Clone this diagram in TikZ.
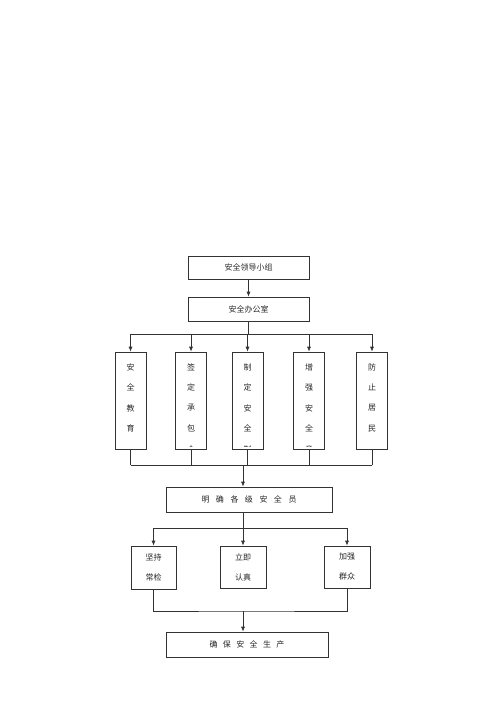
\documentclass[tikz,border=0pt]{standalone}
\usepackage{fontspec}
\newfontfamily\cjk{Noto Sans CJK SC}
\usetikzlibrary{arrows.meta}

\tikzset{
  box/.style={draw=black!80, line width=0.6pt, inner sep=0pt,
    font=\cjk\fontsize{8}{20}\selectfont, text=black!85, align=center},
  word/.style={inner sep=0pt, font=\cjk\fontsize{8}{10}\selectfont, text=black!85},
  link/.style={draw=black!80, line width=0.7pt},
  arr/.style={link, -{Latex[length=5pt,width=4pt]}},
}
\newcommand\wide{\hspace{6.5pt}}
\newcommand\wid{\hspace{5.4pt}}

\begin{document}
\begin{tikzpicture}[x=1pt,y=-1pt]
\useasboundingbox (0,0) rectangle (500,707);

% top of the chart
\node[box, minimum width=121pt, minimum height=23pt] (lead) at (248.5,267.5) {安全领导小组};
\node[box, minimum width=121pt, minimum height=24pt] (office) at (248.5,309) {安全办公室};
\draw[arr] (lead) -- (office);

% five tall boxes
\foreach \n/\x in {edu/130.5, contract/191, rules/247.5, aware/309, resid/372}
  \node[box, minimum width=31pt, minimum height=97pt] (\n) at (\x,400.5) {};
\begin{scope}
  \clip (100,340) rectangle (400,446.3);
  \foreach \x/\t in {130.5/{安,全,教,育}, 191/{签,定,承,包,合},
      247.5/{制,定,安,全,制}, 309/{增,强,安,全,意}, 372/{防,止,居,民}}
    \foreach \c [count=\i] in \t
      \node[word] at (\x,{367+20.5*(\i-1)}) {\c};
\end{scope}

\draw[link] (office.south) -- ++(0,13) coordinate (split);
\draw[link] (edu.north |- split) -- (resid.north |- split);
\foreach \n in {edu,contract,rules,aware,resid}
  \draw[arr] (\n.north |- split) -- (\n.north);

\coordinate (join) at (243,465);
\foreach \n in {edu,contract,rules,aware,resid}
  \draw[link] (\n.south) -- (\n.south |- join);
\draw[link] (edu.south |- join) -- (resid.south |- join);

% middle box
\node[box, minimum width=166pt, minimum height=25pt] (staff) at (249,499.5)
  {明\wide 确\wide 各\wide 级\wide 安\wide 全\wide 员};
\draw[arr] (join) -- (join |- staff.north);

% three small boxes
\node[box, minimum width=45pt, minimum height=43pt] (check) at (153.5,567.5) {坚持\\常检};
\node[box, minimum width=46pt, minimum height=42pt] (prompt) at (243,567) {立即\\认真};
\node[box, minimum width=46pt, minimum height=42pt] (mass) at (347,567) {加强\\群众};

\draw[link] (join |- staff.south) -- ++(0,16) coordinate (split2);
\draw[link] (check.north |- split2) -- (mass.north |- split2);
\foreach \n in {check,prompt,mass}
  \draw[arr] (\n.north |- split2) -- (\n.north);

% bottom box
\coordinate (join2) at (243,611);
\node[box, minimum width=162pt, minimum height=25pt] (safe) at (247,644.5)
  {确\wid 保\wid 安\wid 全\wid 生\wid 产};
\draw[link] (check.south) |- (join2) -| (mass.south);
\draw[arr] (join2) -- (join2 |- safe.north);
\end{tikzpicture}
\end{document}
